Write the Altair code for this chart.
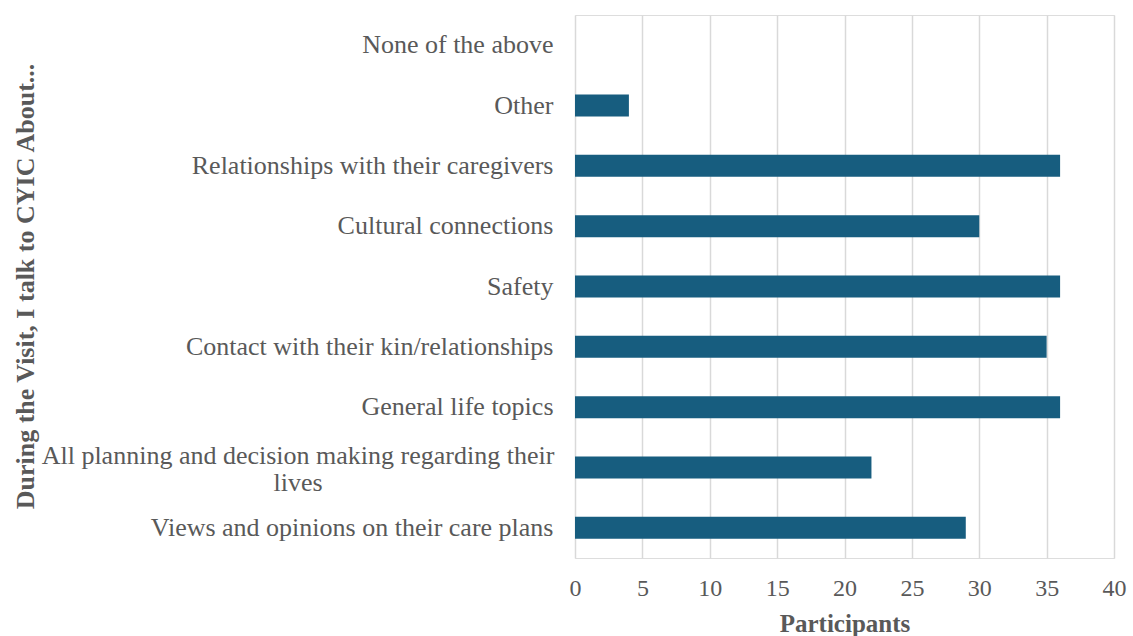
import altair as alt
import pandas as pd

categories = [
    "None of the above",
    "Other",
    "Relationships with their caregivers",
    "Cultural connections",
    "Safety",
    "Contact with their kin/relationships",
    "General life topics",
    "All planning and decision making regarding their lives",
    "Views and opinions on their care plans",
]
values = [0, 4, 36, 30, 36, 35, 36, 22, 29]
x_ticks = [0, 5, 10, 15, 20, 25, 30, 35, 40]

LONG = "All planning and decision making regarding their lives"

df = pd.DataFrame({"topic": categories, "participants": values})

FONT = "Liberation Serif"
GRAY = "#595959"

label_expr = "datum.value == '" + LONG + "' ? '' : datum.value"

base = alt.Chart(df)

bars = base.mark_bar(color="#175d7f", size=22).encode(
    x=alt.X(
        "participants:Q",
        scale=alt.Scale(domain=[0, 40], nice=False),
        axis=alt.Axis(
            values=x_ticks,
            title="Participants",
            grid=True,
            gridColor="#d9d9d9",
            gridWidth=1.5,
            domain=False,
            ticks=False,
            labelFlush=False,
            labelPadding=18,
            labelFontSize=24,
            labelColor=GRAY,
            labelFont=FONT,
            titleFont=FONT,
            titleFontSize=25,
            titleFontWeight="bold",
            titleColor=GRAY,
            titlePadding=11,
        ),
    ),
    y=alt.Y(
        "topic:N",
        sort=categories,
        axis=alt.Axis(
            title="During the Visit, I talk to CYIC About...",
            domain=False,
            ticks=False,
            labelPadding=22,
            labelFontSize=26,
            labelColor=GRAY,
            labelFont=FONT,
            labelLimit=600,
            labelExpr=label_expr,
            titleFont=FONT,
            titleFontSize=26,
            titleFontWeight="bold",
            titleColor=GRAY,
            titleX=-537,
            titleY=271,
            titleAlign="center",
            titleAngle=270,
        ),
    ),
)

wrapped = (
    base.transform_filter(alt.datum.topic == LONG)
    .transform_calculate(txt=alt.expr.replace(alt.datum.topic, " lives", "\nlives"))
    .mark_text(
        font=FONT,
        fontSize=26,
        color=GRAY,
        align="center",
        baseline="middle",
        lineBreak="\n",
        lineHeight=27,
        dy=-12,
    )
    .encode(
        y=alt.Y("topic:N", sort=categories),
        x=alt.value(-277),
        text="txt:N",
    )
)

chart = (
    alt.layer(bars, wrapped)
    .properties(
        width=539,
        height=543,
        autosize=alt.AutoSizeParams(type="none"),
        padding={"left": 575, "top": 15, "right": 19, "bottom": 78},
    )
    .configure_view(stroke=None)
    .configure(background="white")
)

chart.save("out.html", embed_options={"renderer": "svg", "actions": False})
